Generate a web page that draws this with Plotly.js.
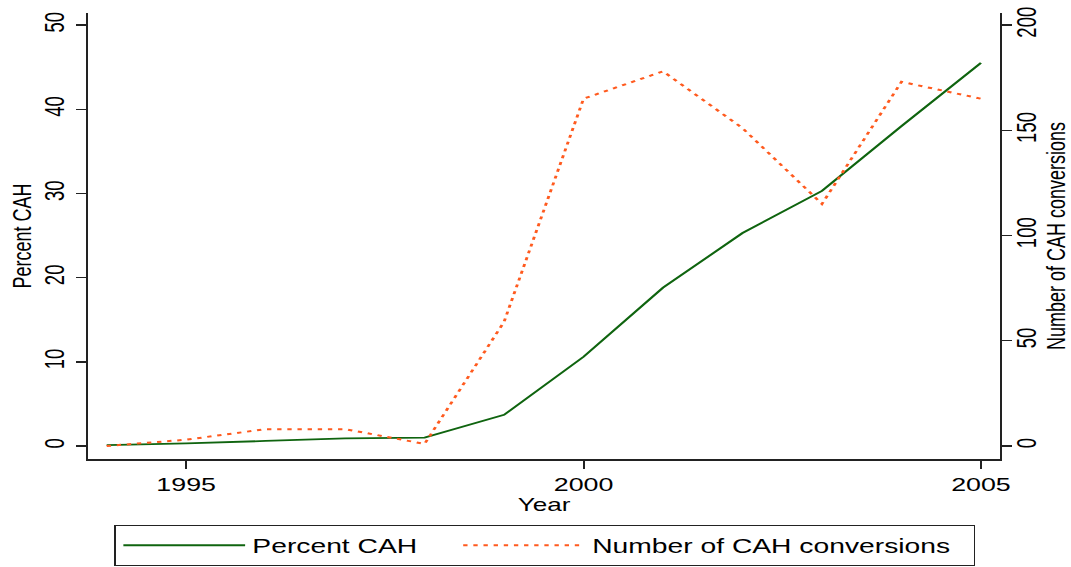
<!DOCTYPE html>
<html><head><meta charset="utf-8">
<script src="https://cdn.plot.ly/plotly-3.0.1.min.js"></script>
<style>
html,body{margin:0;padding:0;overflow:hidden;background:#fff}
#wrap{width:1071px;height:567px;overflow:hidden}
#plot{width:739px;height:567px;transform:scaleX(1.4493);transform-origin:0 0}
</style>
</head><body><div id="wrap"><div id="plot"></div></div>
<script>
const years = [1994, 1995, 1996, 1997, 1998, 1999, 2000, 2001, 2002, 2003, 2004, 2005];
const percentCAH = [0.1, 0.3, 0.6, 0.9, 1.0, 3.7, 10.6, 18.8, 25.3, 30.3, 38.0, 45.5];
const conversions = [0, 3, 8, 8, 1, 59, 165, 178, 151, 115, 173, 165];
const seriesNames = ['Percent CAH', 'Number of CAH conversions'];
const xTicks = [1995, 2000, 2005];
const yLeftTicks = [0, 10, 20, 30, 40, 50];
const yRightTicks = [0, 50, 100, 150, 200];

const FONT = 'Liberation Sans, Arial, Helvetica, sans-serif';
const AX = '#222';
const NB = '\u00a0';

const traces = [
  {x: years, y: percentCAH, type: 'scatter', mode: 'lines', name: seriesNames[0] + NB.repeat(4),
   line: {color: '#0f640f', width: 1.8}, yaxis: 'y'},
  {x: years, y: conversions, type: 'scatter', mode: 'lines', name: seriesNames[1] + NB.repeat(2),
   line: {color: '#ff5a1e', width: 2, dash: '3px,4px'}, yaxis: 'y2'}
];

const layout = {
  width: 739, height: 567,
  margin: {l: 61, r: 49, t: 13, b: 108, autoexpand: false},
  paper_bgcolor: '#fff', plot_bgcolor: '#fff',
  font: {family: FONT, color: '#000', size: 18},
  showlegend: true,
  xaxis: {
    range: [1993.77, 2005.24], tickvals: xTicks, ticktext: xTicks.map(String),
    ticks: 'outside', ticklen: 8, tickwidth: 1.4, tickcolor: AX, automargin: false,
    showline: true, linewidth: 1.5, linecolor: AX, showgrid: false, zeroline: false,
    tickfont: {size: 18.5, family: FONT},
    title: {text: 'Year', font: {size: 18, family: FONT}, standoff: 4}
  },
  yaxis: {
    range: [-1.544, 51.43], tickvals: yLeftTicks, ticktext: yLeftTicks.map(String),
    tickangle: -90, ticks: 'outside', ticklen: 7, tickwidth: 1.4, tickcolor: AX, automargin: false,
    showline: true, linewidth: 1.5, linecolor: AX, showgrid: false, zeroline: false,
    tickfont: {size: 18.5, family: FONT}, ticklabelstandoff: 1,
    title: {text: 'Percent CAH', font: {size: 18, family: FONT}, standoff: 0}
  },
  yaxis2: {
    overlaying: 'y', side: 'right', automargin: false,
    range: [-6.18, 205.7], tickvals: yRightTicks, ticktext: yRightTicks.map(String),
    tickangle: -90, ticks: 'outside', ticklen: 7, tickwidth: 1.4, tickcolor: AX,
    showline: true, linewidth: 1.5, linecolor: AX, showgrid: false, zeroline: false,
    tickfont: {size: 18.5, family: FONT}, ticklabelstandoff: -6,
    title: {text: 'Number of CAH conversions', font: {size: 18, family: FONT}, standoff: 17}
  },
  legend: {
    orientation: 'h', x: 0.0285, xanchor: 'left',
    yref: 'container', y: 0.002, yanchor: 'bottom',
    bordercolor: AX, borderwidth: 1.2, bgcolor: '#fff', itemwidth: 84,
    font: {size: 19.5, family: FONT}
  }
};

Plotly.newPlot('plot', traces, layout, {displayModeBar: false, staticPlot: true});
</script>
</body></html>
